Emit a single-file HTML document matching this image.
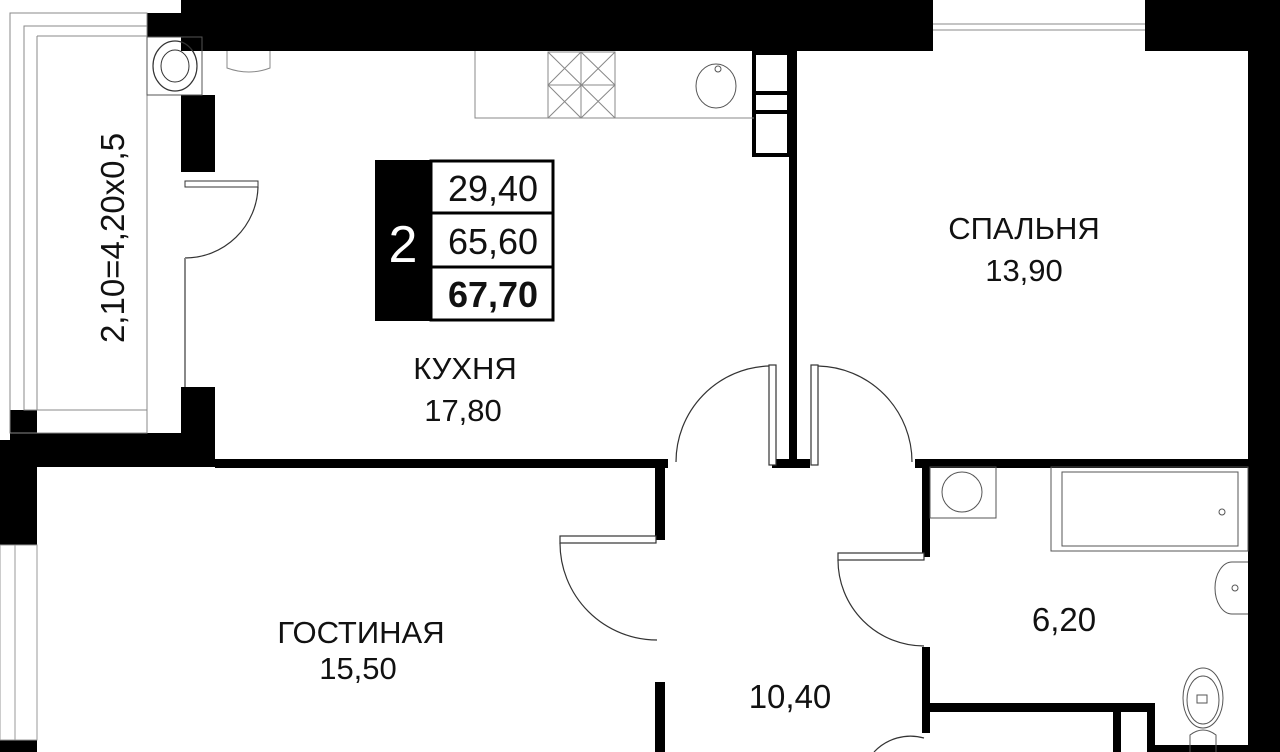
<!DOCTYPE html>
<html><head><meta charset="utf-8"><style>
html,body{margin:0;padding:0;background:#fff;width:1280px;height:752px;overflow:hidden}
svg{display:block}
text{font-family:"Liberation Sans",sans-serif;fill:#111}
</style></head><body>
<svg width="1280" height="752" viewBox="0 0 1280 752" xmlns="http://www.w3.org/2000/svg">
<g fill="#000">
<rect x="181" y="0" width="752" height="51"/>
<rect x="147" y="13" width="68" height="24"/>
<rect x="1145" y="0" width="135" height="51"/>
<rect x="1248" y="0" width="32" height="752"/>
<rect x="181" y="95" width="34" height="77"/>
<rect x="181" y="387" width="34" height="80"/>
<rect x="10" y="433" width="205" height="34"/>
<rect x="10" y="410" width="27" height="57"/>
<rect x="0" y="440" width="37" height="105"/>
<rect x="0" y="740" width="37" height="12"/>
<rect x="215" y="459" width="453" height="9"/>
<rect x="655" y="459" width="10" height="81"/>
<rect x="655" y="682" width="10" height="70"/>
<rect x="789" y="51" width="8" height="415"/>
<rect x="772" y="459" width="38" height="9"/>
<rect x="915" y="459" width="335" height="9"/>
<rect x="922" y="459" width="8" height="98"/>
<rect x="922" y="647" width="8" height="86"/>
<rect x="922" y="703" width="233" height="9"/>
<rect x="1113" y="703" width="8" height="49"/>
<rect x="1147" y="703" width="8" height="49"/>
<rect x="1147" y="745" width="103" height="7"/>
</g>
<g fill="none" stroke="#000" stroke-width="4">
<rect x="754" y="53" width="35" height="102"/>
<line x1="754" y1="93" x2="789" y2="93"/>
<line x1="754" y1="112" x2="789" y2="112"/>
</g>
<g fill="none" stroke="#888" stroke-width="1">
<rect x="10" y="13" width="137" height="420"/>
<rect x="24" y="26" width="123" height="384"/>
<line x1="37" y1="36" x2="147" y2="36"/>
<line x1="37" y1="36" x2="37" y2="410"/>
<rect x="147" y="37" width="55" height="58" stroke="#555"/>
</g>
<ellipse cx="175" cy="66" rx="22" ry="25" fill="none" stroke="#333" stroke-width="1.2"/>
<ellipse cx="175" cy="66" rx="14" ry="16" fill="none" stroke="#333" stroke-width="1"/>
<rect x="185" y="181" width="73" height="6" fill="#fff" stroke="#333" stroke-width="1"/>
<path d="M258 187 A73 73 0 0 1 185 258" fill="none" stroke="#333" stroke-width="1.2"/>
<line x1="185" y1="258" x2="185" y2="387" stroke="#888" stroke-width="2"/>
<text x="0" y="0" font-size="33" text-anchor="middle" transform="translate(124,238) rotate(-90)">2,10=4,20x0,5</text>
<rect x="933" y="0" width="212" height="51" fill="#fff"/>
<line x1="933" y1="24" x2="1145" y2="24" stroke="#888" stroke-width="1"/>
<line x1="933" y1="30" x2="1145" y2="30" stroke="#888" stroke-width="1"/>
<rect x="0" y="545" width="37" height="195" fill="#fff" stroke="#999" stroke-width="1"/>
<line x1="15" y1="545" x2="15" y2="740" stroke="#999"/>
<g fill="none" stroke="#888" stroke-width="1">
<path d="M475 51 V118 H754"/>
<rect x="548" y="52" width="67" height="66"/>
<path d="M548 52 L615 118 M615 52 L548 118 M581 52 L548 85 L581 118 L615 85 Z"/>
<line x1="548" y1="85" x2="615" y2="85"/><line x1="581" y1="52" x2="581" y2="118"/>
<path d="M227 51 V68 Q249 76 270 68 V51"/>
</g>
<ellipse cx="716" cy="86" rx="20" ry="22" fill="none" stroke="#555" stroke-width="1"/>
<circle cx="718" cy="69" r="3" fill="none" stroke="#555"/>
<rect x="375" y="160" width="56" height="161" fill="#000"/>
<g fill="none" stroke="#000" stroke-width="3">
<rect x="431" y="161" width="122" height="159"/>
<line x1="431" y1="213" x2="553" y2="213"/>
<line x1="431" y1="267" x2="553" y2="267"/>
</g>
<text x="403" y="262" font-size="52" style="fill:#fff" text-anchor="middle">2</text>
<text x="493" y="201" font-size="36" text-anchor="middle">29,40</text>
<text x="493" y="254" font-size="36" text-anchor="middle">65,60</text>
<text x="493" y="307" font-size="36" font-weight="bold" text-anchor="middle">67,70</text>
<g fill="#fff" stroke="#333" stroke-width="1.2">
<rect x="769" y="365" width="7" height="100"/>
<rect x="811" y="365" width="7" height="100"/>
<rect x="560" y="536" width="96" height="7"/>
<rect x="838" y="553" width="86" height="7"/>
</g>
<g fill="none" stroke="#333" stroke-width="1.2">
<path d="M769 366 A96 96 0 0 0 676 462"/>
<path d="M818 366 A96 96 0 0 1 912 462"/>
<path d="M560 543 A97 97 0 0 0 657 640"/>
<path d="M838 560 A86 86 0 0 0 924 646"/>
<path d="M924 738 A50 50 0 0 0 874 752"/>
</g>
<g fill="none" stroke="#555" stroke-width="1">
<rect x="930" y="467" width="66" height="51"/>
<circle cx="962" cy="492" r="20"/>
<rect x="1051" y="467" width="197" height="84"/>
<rect x="1062" y="472" width="176" height="74"/>
<circle cx="1222" cy="512" r="3"/>
<path d="M1248 562 H1232 A17 26 0 0 0 1232 614 H1248"/>
<circle cx="1235" cy="588" r="3"/>
<ellipse cx="1203" cy="698" rx="20" ry="30"/>
<ellipse cx="1203" cy="700" rx="16" ry="24"/>
<path d="M1190 752 V735 Q1203 725 1216 735 V752"/>
<rect x="1197" y="695" width="10" height="8"/>
</g>
<g font-size="31" text-anchor="middle">
<text x="465" y="379">КУХНЯ</text>
<text x="463" y="421">17,80</text>
<text x="1024" y="239">СПАЛЬНЯ</text>
<text x="1024" y="281">13,90</text>
<text x="361" y="643">ГОСТИНАЯ</text>
<text x="358" y="679">15,50</text>
<text x="790" y="708" font-size="33">10,40</text>
<text x="1064" y="631" font-size="33">6,20</text>
</g>
</svg>
</body></html>
